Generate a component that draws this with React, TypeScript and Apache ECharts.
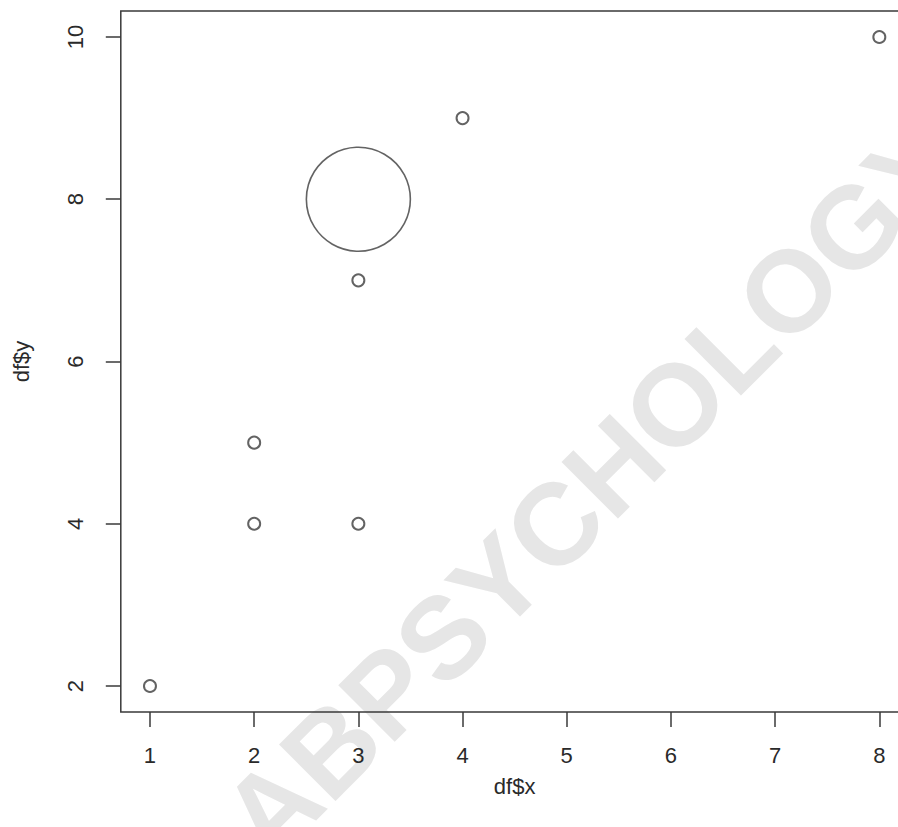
import React, { useEffect, useRef } from "react";
import * as echarts from "echarts";

// Data
const xValues = [1, 2, 2, 3, 3, 4, 8];
const yValues = [2, 4, 5, 4, 7, 9, 10];
const bigX = [3];
const bigY = [8];
const xTicks = [1, 2, 3, 4, 5, 6, 7, 8];
const yTicks = [2, 4, 6, 8, 10];
const xTitle = "df$x";
const yTitle = "df$y";
const watermark = "LABPSYCHOLOGY";

export default function App() {
  const ref = useRef<HTMLDivElement>(null);
  useEffect(() => {
    if (!ref.current) return;
    const chart = echarts.init(ref.current, undefined, { renderer: "svg" });
    const font = "Liberation Sans, Arial, Helvetica, sans-serif";
    const points = xValues.map((x, i) => [x, yValues[i]]);
    const bigPoints = bigX.map((x, i) => [x, bigY[i]]);
    const xMin = 1 - 0.04 * 7;
    const xMax = 8 + 0.04 * 7;
    const yMin = 2 - 0.04 * 8;
    const yMax = 10 + 0.04 * 8;
    chart.setOption({
      animation: false,
      backgroundColor: "#ffffff",
      graphic: [
        {
          type: "text",
          x: 566,
          y: 514,
          rotation: Math.PI / 4,
          z: -10,
          silent: true,
          style: {
            text: watermark,
            fontSize: 116,
            fontWeight: "bold",
            fontFamily: font,
            fill: "#e6e6e6",
            align: "center",
            verticalAlign: "middle",
          },
        },
      ],
      grid: {
        left: 120.8,
        top: 11,
        width: 787.7,
        height: 701,
        show: true,
        borderColor: "#3a3a3a",
        borderWidth: 1.5,
        backgroundColor: "transparent",
        containLabel: false,
      },
      xAxis: {
        type: "value",
        min: xMin,
        max: xMax,
        name: xTitle,
        nameLocation: "middle",
        nameGap: 63,
        nameTextStyle: { fontFamily: font, fontSize: 22, color: "#2a2a2a" },
        axisLine: { show: false },
        splitLine: { show: false },
        axisTick: {
          show: true,
          inside: false,
          length: 15,
          lineStyle: { color: "#3a3a3a", width: 1.5 },
          customValues: xTicks,
        },
        axisLabel: {
          show: true,
          margin: 32,
          fontFamily: font,
          fontSize: 22,
          color: "#2a2a2a",
          customValues: xTicks,
        },
      },
      yAxis: {
        type: "value",
        min: yMin,
        max: yMax,
        name: yTitle,
        nameLocation: "middle",
        nameGap: 88,
        nameRotate: 90,
        nameTextStyle: { fontFamily: font, fontSize: 22, color: "#2a2a2a" },
        axisLine: { show: false },
        splitLine: { show: false },
        axisTick: {
          show: true,
          inside: false,
          length: 15,
          lineStyle: { color: "#3a3a3a", width: 1.5 },
          customValues: yTicks,
        },
        axisLabel: {
          show: true,
          margin: 34,
          rotate: 90,
          fontFamily: font,
          fontSize: 22,
          color: "#2a2a2a",
          customValues: yTicks,
        },
      },
      series: [
        {
          type: "scatter",
          data: points,
          symbol: "circle",
          symbolSize: 12,
          itemStyle: { color: "rgba(255,255,255,0)", borderColor: "#3c3c3c", borderWidth: 2 },
          emphasis: { disabled: true },
          z: 5,
        },
        {
          type: "scatter",
          data: bigPoints,
          symbol: "circle",
          symbolSize: 104,
          itemStyle: { color: "rgba(255,255,255,0)", borderColor: "#3c3c3c", borderWidth: 1.6 },
          emphasis: { disabled: true },
          z: 5,
        },
      ],
    });
    return () => chart.dispose();
  }, []);
  return (
    <div
      style={{
        position: "absolute",
        left: 0,
        top: 0,
        width: 898,
        height: 827,
        overflow: "hidden",
      }}
    >
      <div ref={ref} style={{ width: 930, height: 827 }} />
    </div>
  );
}
